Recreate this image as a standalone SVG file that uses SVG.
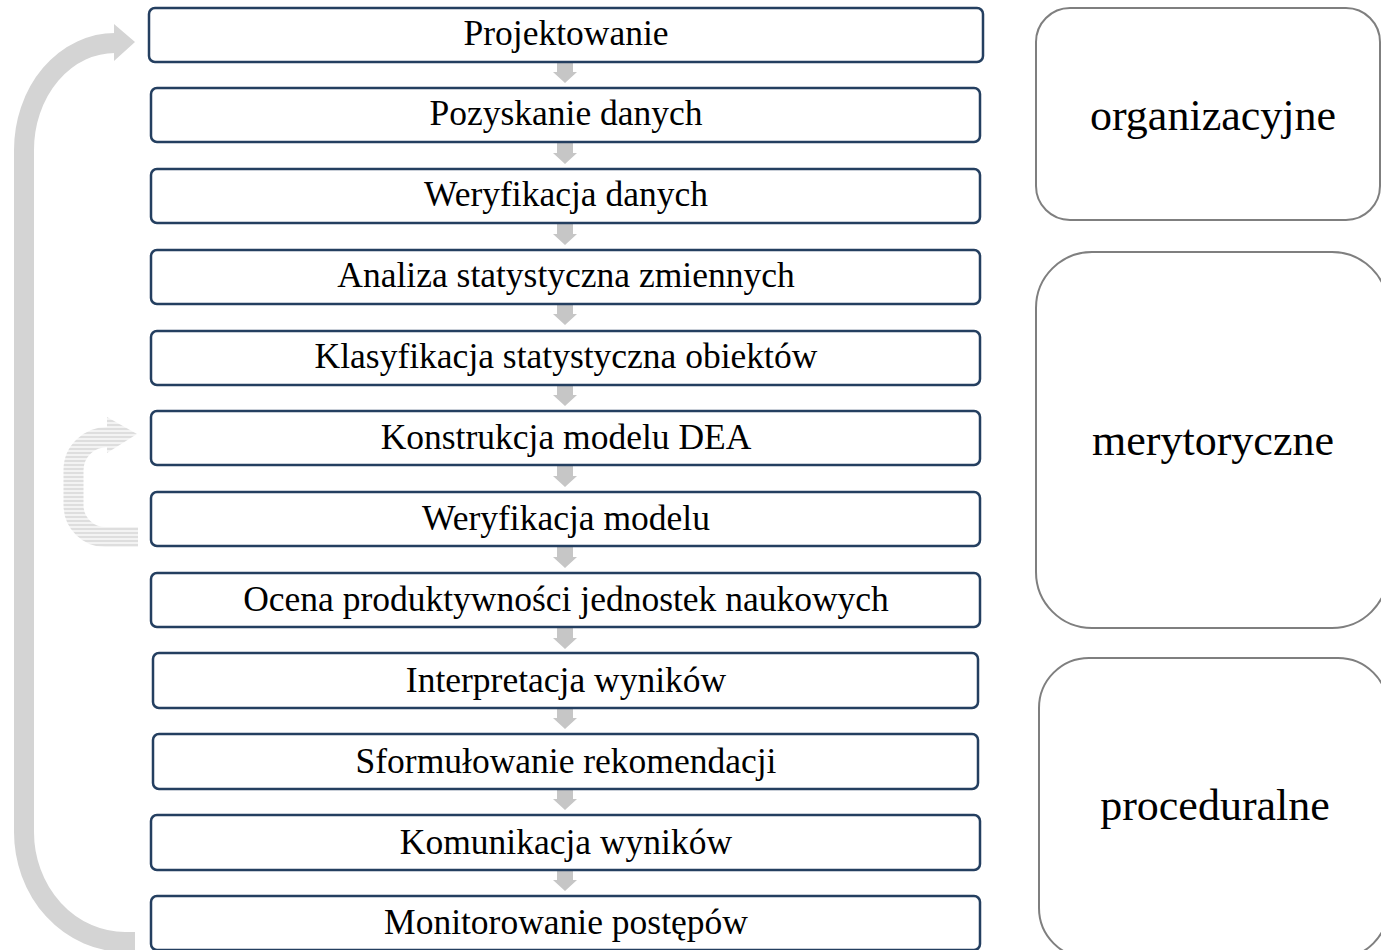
<svg xmlns="http://www.w3.org/2000/svg" width="1381" height="950" viewBox="0 0 1381 950">
<style>
.step{fill:#ffffff;stroke:#243f60;stroke-width:2.5}
.st{font-family:"Liberation Serif","Times New Roman",serif;font-size:35.5px;fill:#000;text-anchor:middle;dominant-baseline:central}
.grp{fill:#ffffff;stroke:#7f7f7f;stroke-width:2}
.gt{font-family:"Liberation Serif","Times New Roman",serif;font-size:44px;fill:#000;text-anchor:middle;dominant-baseline:central}
.sa{fill:#c6c6c6}
</style>
<defs>
<pattern id="stripes" width="8" height="4" patternUnits="userSpaceOnUse">
<rect width="8" height="4" fill="#f3f3f3"/>
<rect width="8" height="2" fill="#dedede"/>
</pattern>
<path id="darr" d="M-8,0 H8 V11 H12 L0,22 L-12,11 H-8 Z"/>
</defs>

<g id="cycle-arrow">
<path d="M135 942 L125 942 A101 110 0 0 1 24 832 L24 150 A91 107 0 0 1 115 43" fill="none" stroke="#d4d4d4" stroke-width="20"/>
<polygon points="114,24 135,42 114,61" fill="#d4d4d4"/>
</g>

<g id="faded-arrow">
<path d="M138 537 L106 537 A32 32 0 0 1 73.5 505 L73.5 470 A34 33 0 0 1 108 437" fill="none" stroke="url(#stripes)" stroke-width="20"/>
<polygon points="107,417 137,434 107,453" fill="url(#stripes)"/>
</g>

<g id="connectors">
<use href="#darr" x="565" y="61" class="sa"/>
<use href="#darr" x="565" y="142" class="sa"/>
<use href="#darr" x="565" y="223" class="sa"/>
<use href="#darr" x="565" y="303" class="sa"/>
<use href="#darr" x="565" y="384" class="sa"/>
<use href="#darr" x="565" y="465" class="sa"/>
<use href="#darr" x="565" y="546" class="sa"/>
<use href="#darr" x="565" y="627" class="sa"/>
<use href="#darr" x="565" y="707" class="sa"/>
<use href="#darr" x="565" y="788" class="sa"/>
<use href="#darr" x="565" y="869" class="sa"/>
</g>

<g id="n1"><rect class="step" x="149" y="8" width="834" height="54" rx="6"/><text class="st" x="566" y="33">Projektowanie</text></g>
<g id="n2"><rect class="step" x="151" y="88" width="829" height="54" rx="6"/><text class="st" x="566" y="113">Pozyskanie danych</text></g>
<g id="n3"><rect class="step" x="151" y="169" width="829" height="54" rx="6"/><text class="st" x="566" y="194">Weryfikacja danych</text></g>
<g id="n4"><rect class="step" x="151" y="250" width="829" height="54" rx="6"/><text class="st" x="566" y="275">Analiza statystyczna zmiennych</text></g>
<g id="n5"><rect class="step" x="151" y="331" width="829" height="54" rx="6"/><text class="st" x="566" y="356">Klasyfikacja statystyczna obiektów</text></g>
<g id="n6"><rect class="step" x="151" y="411" width="829" height="54" rx="6"/><text class="st" x="566" y="437">Konstrukcja modelu DEA</text></g>
<g id="n7"><rect class="step" x="151" y="492" width="829" height="54" rx="6"/><text class="st" x="566" y="518">Weryfikacja modelu</text></g>
<g id="n8"><rect class="step" x="151" y="573" width="829" height="54" rx="6"/><text class="st" x="566" y="599">Ocena produktywności jednostek naukowych</text></g>
<g id="n9"><rect class="step" x="153" y="653" width="825" height="55" rx="6"/><text class="st" x="566" y="680">Interpretacja wyników</text></g>
<g id="n10"><rect class="step" x="153" y="734" width="825" height="55" rx="6"/><text class="st" x="566" y="761">Sformułowanie rekomendacji</text></g>
<g id="n11"><rect class="step" x="151" y="815" width="829" height="55" rx="6"/><text class="st" x="566" y="842">Komunikacja wyników</text></g>
<g id="n12"><rect class="step" x="151" y="896" width="829" height="54" rx="6"/><text class="st" x="566" y="922">Monitorowanie postępów</text></g>

<g id="g1"><rect class="grp" x="1036" y="8" width="344" height="212" rx="34"/><text class="gt" x="1213" y="115">organizacyjne</text></g>
<g id="g2"><rect class="grp" x="1036" y="252" width="352" height="376" rx="56"/><text class="gt" x="1213" y="440">merytoryczne</text></g>
<g id="g3"><rect class="grp" x="1039" y="658" width="349" height="300" rx="50"/><text class="gt" x="1215" y="805">proceduralne</text></g>
</svg>
